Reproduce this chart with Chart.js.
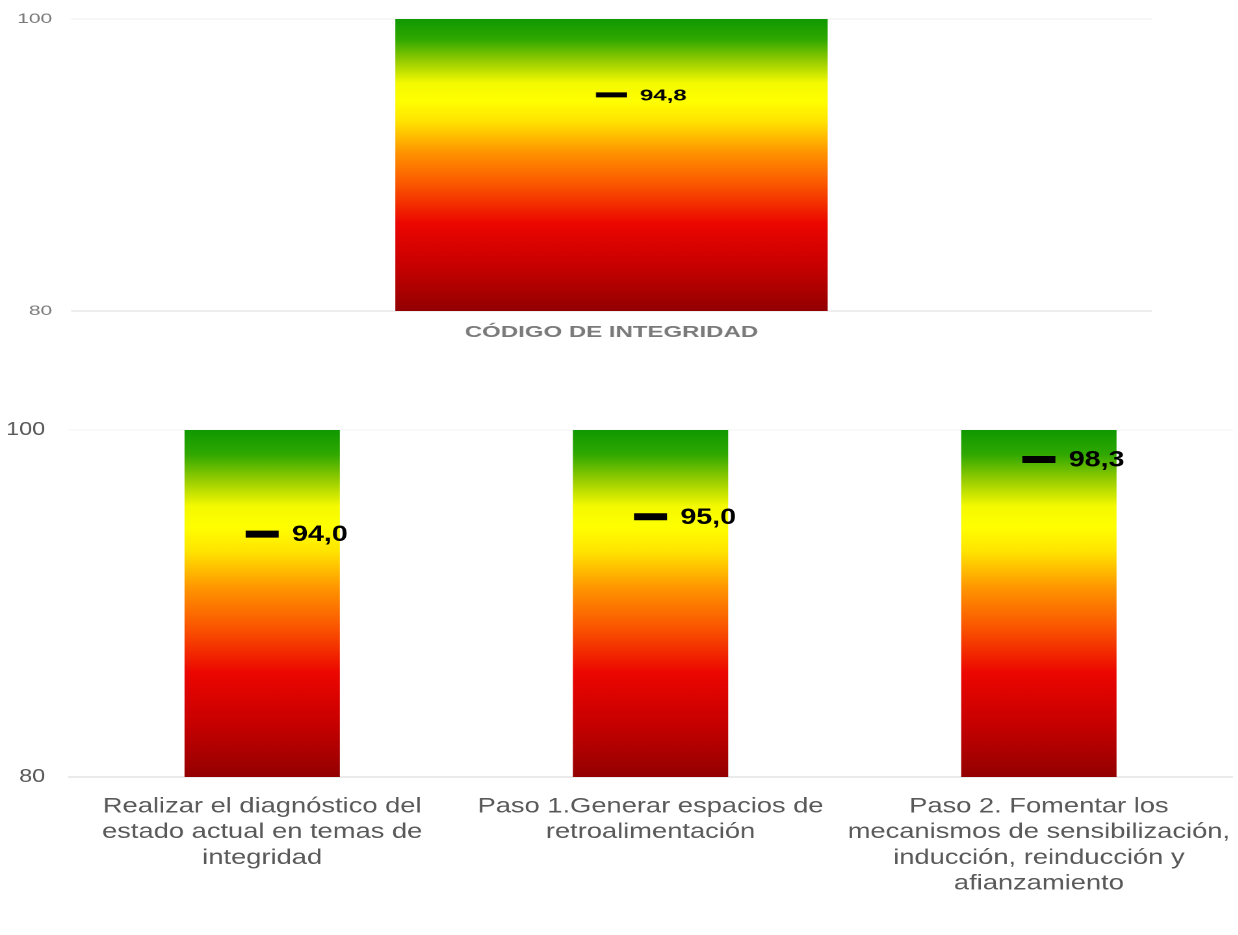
<!DOCTYPE html>
<html><head><meta charset="utf-8">
<script src="https://cdn.jsdelivr.net/npm/chart.js@4"></script>
<style>
html,body{margin:0;padding:0;background:#fff;}
#wrap{position:relative;width:1238px;height:935px;overflow:hidden;}
.box{position:absolute;left:0;transform-origin:0 0;}
#topBox{top:0;height:380px;width:825.333px;transform:scaleX(1.5);}
#botBox{top:380px;height:555px;width:952.308px;transform:scaleX(1.3);}
</style></head><body>
<div id="wrap">
<div class="box" id="topBox"><canvas id="c1"></canvas></div>
<div class="box" id="botBox"><canvas id="c2"></canvas></div>
</div>
<script>
// ---- data ----
const topCategories = ['CÓDIGO DE INTEGRIDAD'];
const topValues = [94.8];
const bottomCategories = [
  ['Realizar el diagnóstico del', 'estado actual en temas de', 'integridad'],
  ['Paso 1.Generar espacios de', 'retroalimentación'],
  ['Paso 2. Fomentar los', 'mecanismos de sensibilización,', 'inducción, reinducción y', 'afianzamiento']
];
const bottomValues = [94.0, 95.0, 98.3];
const scaleMin = 80;
const scaleMax = 100;
const tickValues = [80, 100];

// ---- styling helpers ----
const stops = [
  [0.00, '#109900'], [0.07, '#30a800'], [0.15, '#9ed000'], [0.22, '#f5fa00'],
  [0.28, '#ffff00'], [0.35, '#ffe400'], [0.46, '#ff9200'], [0.56, '#fb5a00'],
  [0.70, '#ec0600'], [0.85, '#c60000'], [1.00, '#930000']
];
function gradientFill(ctx) {
  const chart = ctx.chart;
  if (!chart.chartArea) return '#ff8800';
  const y = chart.scales.y;
  const g = chart.ctx.createLinearGradient(0, y.getPixelForValue(scaleMax), 0, y.getPixelForValue(scaleMin));
  stops.forEach(s => g.addColorStop(s[0], s[1]));
  return g;
}
const fmt = v => v.toFixed(1).replace('.', ',');

const markerLabels = {
  id: 'markerLabels',
  afterDatasetsDraw(chart, args, opts) {
    const meta = chart.getDatasetMeta(1);
    const ds = chart.data.datasets[1];
    const c = chart.ctx;
    c.save();
    c.font = opts.font;
    c.fillStyle = '#000';
    c.textBaseline = 'middle';
    c.textAlign = 'left';
    meta.data.forEach((pt, i) => {
      c.fillText(fmt(ds.data[i]), pt.x + opts.offset, pt.y + 1);
    });
    c.restore();
  }
};

function makeChart(id, cats, vals, cfg) {
  return new Chart(document.getElementById(id), {
    data: {
      labels: cats,
      datasets: [
        {
          type: 'bar',
          data: cats.map(() => [scaleMin, scaleMax]),
          backgroundColor: gradientFill,
          borderWidth: 0,
          barPercentage: 0.4,
          categoryPercentage: 1,
          order: 1
        },
        {
          type: 'line',
          data: vals,
          showLine: false,
          pointStyle: 'line',
          pointRadius: cfg.markerHalf,
          pointHoverRadius: cfg.markerHalf,
          pointBorderWidth: cfg.markerWidth,
          borderWidth: cfg.markerWidth,
          pointBorderColor: '#000',
          borderColor: '#000',
          order: 0
        }
      ]
    },
    options: {
      responsive: true,
      maintainAspectRatio: false,
      animation: false,
      devicePixelRatio: 2,
      events: [],
      layout: { padding: cfg.padding, autoPadding: false },
      plugins: {
        legend: { display: false },
        tooltip: { enabled: false },
        markerLabels: { font: cfg.valueFont, offset: cfg.labelOffset }
      },
      scales: {
        x: {
          grid: { display: false, drawTicks: false },
          border: { display: false },
          ticks: {
            color: cfg.catColor,
            font: cfg.catFont,
            padding: cfg.catPadding,
            maxRotation: 0,
            autoSkip: false
          },
          afterFit: s => { s.height = cfg.xHeight; s.paddingLeft = 0; s.paddingRight = 0; }
        },
        y: {
          min: scaleMin,
          max: scaleMax,
          afterBuildTicks: s => { s.ticks = tickValues.map(v => ({ value: v })); },
          grid: {
            drawTicks: false,
            color: c => (c.tick && c.tick.value === scaleMin) ? cfg.baseGrid : cfg.topGrid,
            lineWidth: 1
          },
          border: { display: false },
          ticks: {
            color: cfg.tickColor,
            font: cfg.tickFont,
            padding: cfg.tickPadding
          },
          afterFit: s => { s.width = cfg.yWidth; s.paddingTop = 0; s.paddingBottom = 0; }
        }
      }
    },
    plugins: [markerLabels]
  });
}

// top chart (drawn in a box stretched 1.5x horizontally)
makeChart('c1', topCategories, topValues, {
  padding: { top: 19, right: 57.33, left: 0, bottom: 0 },
  xHeight: 69,
  yWidth: 47.33,
  markerHalf: 10.3,
  markerWidth: 5,
  valueFont: 'bold 16px "Liberation Sans", Arial, sans-serif',
  labelOffset: 19,
  catColor: '#7a7a7a',
  catFont: { family: '"Liberation Sans", Arial, sans-serif', size: 16, weight: 'bold', lineHeight: 1.2 },
  catPadding: 12,
  tickColor: '#7a7a7a',
  tickFont: { family: '"Liberation Sans", Arial, sans-serif', size: 14 },
  tickPadding: 12.5,
  baseGrid: '#dcdcdc',
  topGrid: '#ececec'
});

// bottom chart (drawn in a box stretched 1.3x horizontally)
makeChart('c2', bottomCategories, bottomValues, {
  padding: { top: 50, right: 3.8, left: 0, bottom: 0 },
  xHeight: 158,
  yWidth: 52.3,
  markerHalf: 12.7,
  markerWidth: 7,
  valueFont: 'bold 22px "Liberation Sans", Arial, sans-serif',
  labelOffset: 23,
  catColor: '#595959',
  catFont: { family: '"Liberation Sans", Arial, sans-serif', size: 21, lineHeight: 1.22 },
  catPadding: 17,
  tickColor: '#595959',
  tickFont: { family: '"Liberation Sans", Arial, sans-serif', size: 18 },
  tickPadding: 17.5,
  baseGrid: '#d4d4d4',
  topGrid: '#f3f3f3'
});
</script>
</body></html>
